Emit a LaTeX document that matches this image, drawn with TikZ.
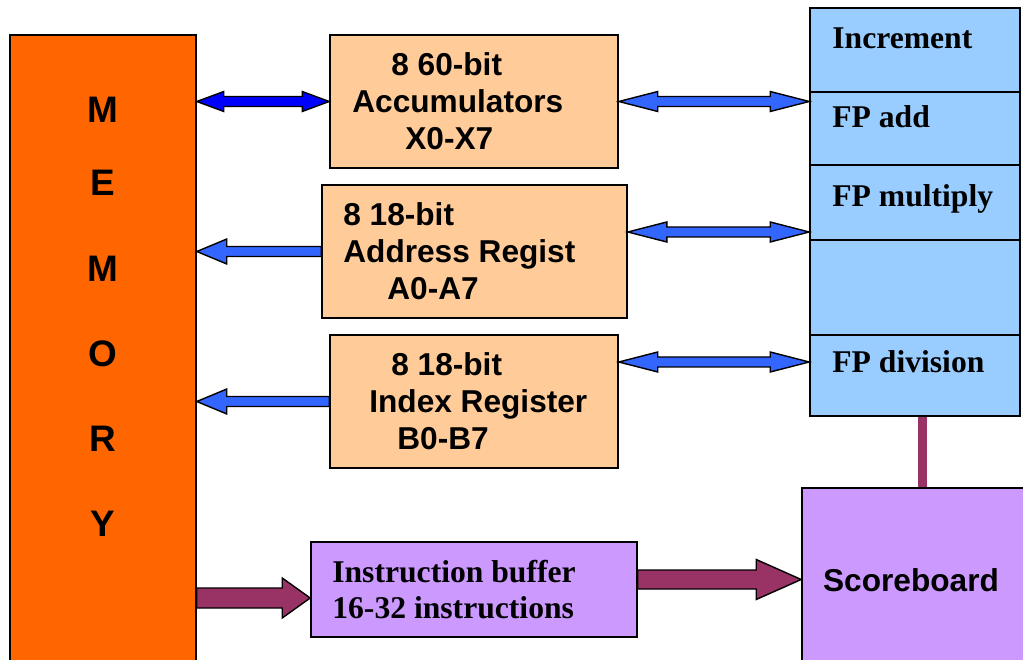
\documentclass[tikz,border=0pt]{standalone}
\usepackage{fontspec}
\setmainfont{Liberation Serif}
\setsansfont{Liberation Sans}
\usepackage{tikz}
\usetikzlibrary{positioning, calc}

\definecolor{memorange}{HTML}{FF6600}
\definecolor{regpeach}{HTML}{FFCC99}
\definecolor{unitblue}{HTML}{99CCFF}
\definecolor{lilac}{HTML}{CC99FF}
\definecolor{linkmaroon}{HTML}{993366}
\definecolor{deepblue}{HTML}{0000FF}
\definecolor{arrowblue}{HTML}{3366FF}

% block arrows: fill, from, to, shaft half, head half, head length
\newcommand{\twoway}[6]{%
  \draw[blockarrow, fill=#1] let \p1=(#2), \p2=(#3), \n1={sign(\x2-(\x1))} in
    (\x1,\y1) -- ({\x1+(\n1)*#6},{\y1+#5}) -- ({\x1+(\n1)*#6},{\y1+#4})
    -- ({\x2-(\n1)*#6},{\y1+#4}) -- ({\x2-(\n1)*#6},{\y1+#5}) -- (\x2,\y1)
    -- ({\x2-(\n1)*#6},{\y1-#5}) -- ({\x2-(\n1)*#6},{\y1-#4})
    -- ({\x1+(\n1)*#6},{\y1-#4}) -- ({\x1+(\n1)*#6},{\y1-#5}) -- cycle;}
\newcommand{\oneway}[6]{%
  \draw[blockarrow, fill=#1] let \p1=(#2), \p2=(#3), \n1={sign(\x2-(\x1))} in
    (\x1,{\y2+#4}) -- ({\x2-(\n1)*#6},{\y2+#4}) -- ({\x2-(\n1)*#6},{\y2+#5})
    -- (\x2,\y2) -- ({\x2-(\n1)*#6},{\y2-#5}) -- ({\x2-(\n1)*#6},{\y2-#4})
    -- (\x1,{\y2-#4}) -- cycle;}

\begin{document}
\begin{tikzpicture}[
			box/.style={
				draw,
				rectangle,
				line width=0.9pt,
				inner sep=0pt
			},
			blockarrow/.style={draw=black, line width=0.8pt, line join=miter},
			sanslabel/.style={font=\sffamily\bfseries\fontsize{18}{21}\selectfont, align=left, inner sep=0pt},
			seriflabel/.style={font=\rmfamily\bfseries\fontsize{18}{20.4}\selectfont, align=left, inner sep=0pt},
			link/.style={draw=linkmaroon, line width=5pt}
			]
			\useasboundingbox (0,0) rectangle (20.46,-13.2);
			
			% Memory
			\node[box, fill=memorange, minimum width=3.72cm, minimum height=12.8cm] (mem) at (2.06,-7.1) {};
			\foreach \ch/\yy [count=\i] in {M/2.19, E/3.66, M/5.37, O/7.08, R/8.78, Y/10.48}
				\node[sanslabel, font=\sffamily\bfseries\fontsize{21}{24}\selectfont] (letter\i) at (2.06,-\yy) {\ch};
			
			% Register boxes
			\node[box, fill=regpeach, minimum width=5.76cm, minimum height=2.66cm] (acc) at (9.48,-2.03) {};
			\node[box, fill=regpeach, minimum width=6.1cm, minimum height=2.66cm] (addr) at (9.49,-5.03) {};
			\node[box, fill=regpeach, minimum width=5.76cm, minimum height=2.66cm] (idx) at (9.48,-8.03) {};
			\node[sanslabel, anchor=west] (acctext) at (7.04,-2.03) {\hspace*{0.78cm}8 60-bit\\Accumulators\\\hspace*{1.06cm}X0-X7};
			\node[sanslabel, anchor=west] (addrtext) at (6.86,-5.03) {8 18-bit\\Address Regist\\\hspace*{0.88cm}A0-A7};
			\node[sanslabel, anchor=west] (idxtext) at (7.38,-8.03) {\hspace*{0.44cm}8 18-bit\\Index Register\\\hspace*{0.56cm}B0-B7};
			
			% Functional units
			\node[box, fill=unitblue, minimum width=4.2cm, minimum height=8.16cm] (units) at (18.3,-4.24) {};
			\foreach \yy in {1.84, 3.3, 4.8, 6.7}
				\draw[line width=0.8pt] (units.west |- 0,-\yy) -- (units.east |- 0,-\yy);
			\node[seriflabel, anchor=base west] (inc) at (16.64,-0.98) {Increment};
			\node[seriflabel, anchor=base west] (fpadd) at (16.64,-2.56) {FP add};
			\node[seriflabel, anchor=base west] (fpmul) at (16.64,-4.14) {FP multiply};
			\node[seriflabel, anchor=base west] (fpdiv) at (16.64,-7.46) {FP division};
			
			% Instruction buffer and scoreboard
			\node[box, fill=lilac, minimum width=6.52cm, minimum height=1.9cm] (instr) at (9.48,-11.79) {};
			\node[seriflabel, anchor=west] (instrtext) at (6.64,-11.79) {Instruction buffer\\16-32 instructions};
			\node[box, fill=lilac, minimum width=4.46cm, minimum height=3.54cm] (score) at (18.27,-11.53) {};
			\node[sanslabel] (scoretext) at (18.22,-11.6) {Scoreboard};
			
			% Arrow ends
			\coordinate (aU) at ([yshift=0.39cm]addr.east);
			\coordinate (iU) at ([yshift=0.79cm]idx.east);
			\coordinate (iM) at ([yshift=-0.17cm]instr.west);
			\coordinate (iS) at ([yshift=0.2cm]instr.east);
			\coordinate (uS) at ([xshift=0.15cm]units.south);
			
			% Connectors
			\twoway{deepblue}{acc.west -| mem.east}{acc.west}{0.1cm}{0.2cm}{0.54cm}
			\twoway{arrowblue}{acc.east}{acc.east -| units.west}{0.1cm}{0.2cm}{0.78cm}
			\oneway{arrowblue}{addr.west}{addr.west -| mem.east}{0.1cm}{0.25cm}{0.6cm}
			\twoway{arrowblue}{aU}{aU -| units.west}{0.1cm}{0.2cm}{0.78cm}
			\oneway{arrowblue}{idx.west}{idx.west -| mem.east}{0.1cm}{0.25cm}{0.6cm}
			\twoway{arrowblue}{iU}{iU -| units.west}{0.1cm}{0.2cm}{0.78cm}
			\oneway{linkmaroon}{iM -| mem.east}{iM}{0.2cm}{0.4cm}{0.56cm}
			\oneway{linkmaroon}{iS}{iS -| score.west}{0.19cm}{0.4cm}{0.9cm}
			\draw[link] (uS) -- (uS |- score.north);
			
		\end{tikzpicture}
\end{document}
